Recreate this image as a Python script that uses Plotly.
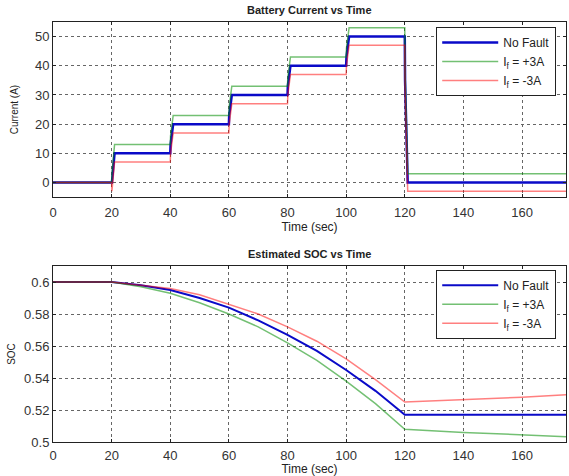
import plotly.graph_objects as go

# ---------------- data ----------------
step_times = [20, 40, 60, 80, 100, 120]
current_levels = [0, 10, 20, 30, 40, 50, 0]   # no-fault current levels (A)
fault_offsets = {"No Fault": 0, "+3A": 3, "-3A": -3}
t_end = 175

soc_time = [0, 20, 30, 40, 50, 60, 70, 80, 90, 100, 110, 120, 140, 160, 175]
soc_nofault = [0.600, 0.600, 0.598, 0.595, 0.590, 0.584, 0.576, 0.567, 0.557, 0.545, 0.532, 0.517, 0.517, 0.517, 0.517]
soc_plus3 = [0.600, 0.600, 0.597, 0.593, 0.587, 0.580, 0.572, 0.562, 0.551, 0.538, 0.524, 0.508, 0.506, 0.5045, 0.5033]
soc_minus3 = [0.600, 0.600, 0.598, 0.596, 0.592, 0.586, 0.580, 0.572, 0.563, 0.552, 0.539, 0.525, 0.5263, 0.528, 0.5296]

x_ticks = [0, 20, 40, 60, 80, 100, 120, 140, 160]


def current_path(offset):
    ts, ys = [0], [current_levels[0]]
    prev = current_levels[0]
    for i, T in enumerate(step_times):
        new = current_levels[i + 1] + offset
        ts += [T, T + 0.1, T + 1.0]
        ys += [prev, prev + 0.3 * (new - prev) if i else offset, new]
        prev = new
    ts.append(t_end)
    ys.append(prev)
    return ts, ys


BLUE = "rgb(10,10,200)"
GREEN = "rgba(0,140,0,0.55)"
RED = "rgba(255,0,0,0.5)"

fig = go.Figure()

t0, y0 = current_path(fault_offsets["No Fault"])
t1, y1 = current_path(fault_offsets["+3A"])
t2, y2 = current_path(fault_offsets["-3A"])

fig.add_trace(go.Scatter(x=t0, y=y0, mode="lines", name="No Fault",
                         line=dict(color=BLUE, width=2.5), xaxis="x", yaxis="y", legend="legend"))
fig.add_trace(go.Scatter(x=t1, y=y1, mode="lines", name="I<sub>f</sub> = +3A",
                         line=dict(color=GREEN, width=1.5), xaxis="x", yaxis="y", legend="legend"))
fig.add_trace(go.Scatter(x=t2, y=y2, mode="lines", name="I<sub>f</sub> = -3A",
                         line=dict(color=RED, width=1.5), xaxis="x", yaxis="y", legend="legend"))

fig.add_trace(go.Scatter(x=soc_time, y=soc_nofault, mode="lines", name="No Fault",
                         line=dict(color=BLUE, width=2), xaxis="x2", yaxis="y2", legend="legend2"))
fig.add_trace(go.Scatter(x=soc_time, y=soc_plus3, mode="lines", name="I<sub>f</sub> = +3A",
                         line=dict(color=GREEN, width=1.5), xaxis="x2", yaxis="y2", legend="legend2"))
fig.add_trace(go.Scatter(x=soc_time, y=soc_minus3, mode="lines", name="I<sub>f</sub> = -3A",
                         line=dict(color=RED, width=1.5), xaxis="x2", yaxis="y2", legend="legend2"))

axis_common = dict(
    showline=True, linecolor="#222", linewidth=1, mirror="ticks",
    ticks="inside", ticklen=3, tickcolor="#222", automargin=False,
    showgrid=True, gridcolor="#666", griddash="dot", gridwidth=1,
    zeroline=False, tickfont=dict(size=13, color="#333"),
)

legend_common = dict(
    xanchor="left", yanchor="top",
    bordercolor="#222", borderwidth=1, bgcolor="white",
    font=dict(size=12, color="#222"), tracegroupgap=0, itemwidth=56,
)

fig.update_layout(
    width=569, height=476,
    margin=dict(l=53, r=3, t=22, b=34),
    paper_bgcolor="white", plot_bgcolor="white",
    font=dict(family="Liberation Sans, Arial, sans-serif", color="#222"),
    showlegend=True,
    xaxis=dict(domain=[0, 1], anchor="y", range=[0, t_end], tickvals=x_ticks, ticklabelstandoff=3,
               title=dict(text="Time (sec)", font=dict(size=12), standoff=0), **axis_common),
    yaxis=dict(domain=[0.583, 1], anchor="x", range=[-5, 55], tickvals=[0, 10, 20, 30, 40, 50],
               title=dict(text="Current (A)", font=dict(size=10), standoff=14), **axis_common),
    xaxis2=dict(domain=[0, 1], anchor="y2", range=[0, t_end], tickvals=x_ticks, ticklabelstandoff=1,
                title=dict(text="Time (sec)", font=dict(size=12), standoff=0), **axis_common),
    yaxis2=dict(domain=[0, 0.419], anchor="x2", range=[0.5, 0.61],
                tickvals=[0.5, 0.52, 0.54, 0.56, 0.58, 0.6],
                ticktext=["0.5", "0.52", "0.54", "0.56", "0.58", "0.6"],
                title=dict(text="SOC", font=dict(size=10), standoff=6), **axis_common),
    legend=dict(x=0.747, y=0.988, **legend_common),
    legend2=dict(x=0.747, y=0.41, **legend_common),
    annotations=[
        dict(text="<b>Battery Current vs Time</b>", xref="paper", yref="paper", x=0.5, y=1,
             yshift=4, xanchor="center", yanchor="bottom", showarrow=False, font=dict(size=11)),
        dict(text="<b>Estimated SOC vs Time</b>", xref="paper", yref="paper", x=0.5, y=0.419,
             yshift=4, xanchor="center", yanchor="bottom", showarrow=False, font=dict(size=11)),
    ],
)

fig.write_html("out.html", config={"displayModeBar": False},
               post_script="document.body.style.margin='0';")
